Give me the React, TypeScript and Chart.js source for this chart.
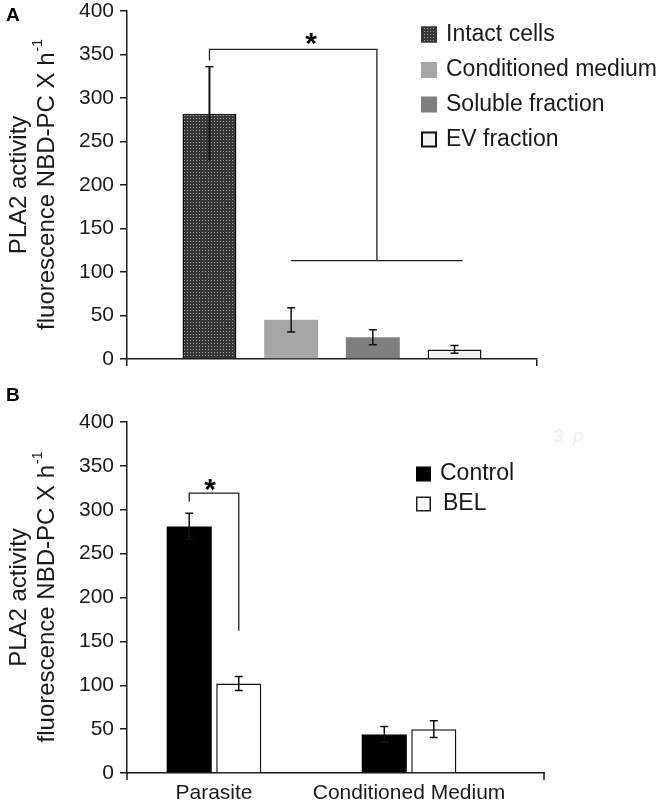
import React, { useEffect, useRef } from "react";
import { Chart, registerables } from "chart.js";

Chart.register(...registerables);

const FONT = "'Liberation Sans', Arial, Helvetica, sans-serif";
Chart.defaults.font.family = FONT;

// ---------- Panel A data ----------
const seriesA = ["Intact cells", "Conditioned medium", "Soluble fraction", "EV fraction"];
const valuesA = [282, 45, 25, 11];
const errorsA = [54, 14, 8.5, 4.5];
const categoryA = [""];
// significance bracket (y values)
const bracketA = { top: 356, leftDrop: 343, base: 113 };

// ---------- Panel B data ----------
const groupsB = ["Parasite", "Conditioned Medium"];
const seriesB = ["Control", "BEL"];
const controlB = [281, 44];
const controlErrB = [15, 9];
const belB = [102, 50];
const belErrB = [8, 9.5];
const bracketB = { top: 319, leftDrop: 309, rightDrop: 162 };

const yTitle1 = "PLA2 activity";
const yTitle2 = "fluorescence NBD-PC X h";
const yTitleSup = "-1";

const INK = "#1a1a1a";

function makePattern(): CanvasPattern | string {
  const c = document.createElement("canvas");
  c.width = 3;
  c.height = 3;
  const g = c.getContext("2d");
  if (!g) return "#444";
  g.fillStyle = "#363636";
  g.fillRect(0, 0, 3, 3);
  g.fillStyle = "#a0a0a0";
  g.fillRect(1, 1, 1, 1);
  const p = g.createPattern(c, "repeat");
  return p || "#444";
}

const errorBarPlugin = {
  id: "errorBars",
  afterDatasetsDraw(chart: any) {
    const ctx = chart.ctx;
    const y = chart.scales.y;
    chart.data.datasets.forEach((ds: any, i: number) => {
      if (!ds.errors) return;
      const meta = chart.getDatasetMeta(i);
      meta.data.forEach((bar: any, j: number) => {
        const raw = ds.data[j];
        const v = typeof raw === "object" ? raw.y : raw;
        const e = ds.errors[j];
        const yt = y.getPixelForValue(v + e);
        const yb = y.getPixelForValue(v - e);
        ctx.save();
        ctx.strokeStyle = "#111";
        ctx.lineWidth = ds.errWidth || 1.5;
        ctx.beginPath();
        ctx.moveTo(bar.x, yt);
        ctx.lineTo(bar.x, yb);
        ctx.stroke();
        ctx.lineWidth = 1.5;
        ctx.beginPath();
        ctx.moveTo(bar.x - 4, yt);
        ctx.lineTo(bar.x + 4, yt);
        if (ds.lowerCap !== false) {
          ctx.moveTo(bar.x - 4, yb);
          ctx.lineTo(bar.x + 4, yb);
        }
        ctx.stroke();
        ctx.restore();
      });
    });
  },
};

function drawYTitle(chart: any) {
  const ctx = chart.ctx;
  const ca = chart.chartArea;
  const cy = (ca.top + ca.bottom) / 2;
  ctx.save();
  ctx.fillStyle = INK;
  ctx.textBaseline = "middle";
  // line 1
  ctx.save();
  ctx.translate(19, cy);
  ctx.rotate(-Math.PI / 2);
  ctx.font = `24px ${FONT}`;
  ctx.textAlign = "center";
  ctx.fillText(yTitle1, 0, 0);
  ctx.restore();
  // line 2 with superscript
  ctx.save();
  ctx.translate(47, cy);
  ctx.rotate(-Math.PI / 2);
  ctx.font = `24px ${FONT}`;
  const w1 = ctx.measureText(yTitle2).width;
  ctx.font = `14px ${FONT}`;
  const w2 = ctx.measureText(yTitleSup).width;
  const start = -(w1 + w2) / 2;
  ctx.textAlign = "left";
  ctx.font = `24px ${FONT}`;
  ctx.fillText(yTitle2, start, 0);
  ctx.font = `14px ${FONT}`;
  ctx.fillText(yTitleSup, start + w1 + 1, -9);
  ctx.restore();
  ctx.restore();
}

function drawPanelLetter(chart: any, letter: string) {
  const ctx = chart.ctx;
  ctx.save();
  ctx.fillStyle = "#000";
  ctx.font = `bold 19px ${FONT}`;
  ctx.textBaseline = "middle";
  ctx.textAlign = "left";
  ctx.fillText(letter, 6, 16);
  ctx.restore();
}

function drawStar(ctx: any, x: number, y: number) {
  ctx.save();
  ctx.fillStyle = "#000";
  ctx.font = `bold 30px ${FONT}`;
  ctx.textAlign = "center";
  ctx.textBaseline = "alphabetic";
  ctx.fillText("*", x, y + 17);
  ctx.restore();
}

function legendSquare(ctx: any, x: number, cy: number, size: number, fill: any, border: string | null, bw: number) {
  ctx.save();
  ctx.fillStyle = fill;
  ctx.fillRect(x, cy - size / 2, size, size);
  if (border) {
    ctx.strokeStyle = border;
    ctx.lineWidth = bw;
    ctx.strokeRect(x + bw / 2, cy - size / 2 + bw / 2, size - bw, size - bw);
  }
  ctx.restore();
}

const panelAPlugin = {
  id: "panelA",
  afterDraw(chart: any) {
    const ctx = chart.ctx;
    const ca = chart.chartArea;
    const y = chart.scales.y;
    drawYTitle(chart);
    drawPanelLetter(chart, "A");
    // bracket
    const m0 = chart.getDatasetMeta(0).data[0];
    const m1 = chart.getDatasetMeta(1).data[0];
    const m3 = chart.getDatasetMeta(3).data[0];
    const xl = m0.x;
    const xs = m1.x;
    const xe = m3.x + m3.width * 0.15;
    const xm = (xs + xe) / 2;
    const yTop = y.getPixelForValue(bracketA.top);
    const yDrop = y.getPixelForValue(bracketA.leftDrop);
    const yBase = y.getPixelForValue(bracketA.base);
    ctx.save();
    ctx.strokeStyle = "#222";
    ctx.lineWidth = 1.3;
    ctx.beginPath();
    ctx.moveTo(xl, yDrop);
    ctx.lineTo(xl, yTop);
    ctx.lineTo(xm, yTop);
    ctx.lineTo(xm, yBase);
    ctx.moveTo(xs, yBase);
    ctx.lineTo(xe, yBase);
    ctx.stroke();
    ctx.restore();
    drawStar(ctx, (xl + xm) / 2 + 18, yTop - 13);
    // legend
    const lx = ca.right - 116;
    const rows = [34.5, 70, 104.5, 139.5];
    chart.data.datasets.forEach((ds: any, i: number) => {
      const cy = rows[i];
      legendSquare(ctx, lx, cy, 16, ds.backgroundColor, ds.legendBorder || null, ds.legendBorderWidth || 1);
      ctx.save();
      ctx.fillStyle = INK;
      ctx.font = `23px ${FONT}`;
      ctx.textBaseline = "middle";
      ctx.textAlign = "left";
      ctx.fillText(ds.label, lx + 25, cy);
      ctx.restore();
    });
  },
};

const panelBPlugin = {
  id: "panelB",
  afterDraw(chart: any) {
    const ctx = chart.ctx;
    const ca = chart.chartArea;
    const y = chart.scales.y;
    drawYTitle(chart);
    drawPanelLetter(chart, "B");
    // x axis end ticks
    ctx.save();
    ctx.strokeStyle = INK;
    ctx.lineWidth = 1.5;
    ctx.beginPath();
    ctx.moveTo(ca.left, ca.bottom);
    ctx.lineTo(ca.left, ca.bottom + 7);
    ctx.moveTo(ca.right, ca.bottom);
    ctx.lineTo(ca.right, ca.bottom + 7);
    ctx.stroke();
    ctx.restore();
    // bracket
    const c = chart.getDatasetMeta(0).data[0];
    const b = chart.getDatasetMeta(1).data[0];
    const yTop = y.getPixelForValue(bracketB.top);
    const yL = y.getPixelForValue(bracketB.leftDrop);
    const yR = y.getPixelForValue(bracketB.rightDrop);
    ctx.save();
    ctx.strokeStyle = "#222";
    ctx.lineWidth = 1.3;
    ctx.beginPath();
    ctx.moveTo(c.x, yL);
    ctx.lineTo(c.x, yTop);
    ctx.lineTo(b.x, yTop);
    ctx.lineTo(b.x, yR);
    ctx.stroke();
    ctx.restore();
    drawStar(ctx, (c.x + b.x) / 2 - 4, yTop - 11);
    // legend
    const lx = ca.right - 128;
    const rows = [94, 124];
    chart.data.datasets.forEach((ds: any, i: number) => {
      const cy = rows[i];
      legendSquare(ctx, lx, cy, 15, ds.backgroundColor, ds.legendBorder || null, 1.5);
      ctx.save();
      ctx.fillStyle = INK;
      ctx.font = `23px ${FONT}`;
      ctx.textBaseline = "middle";
      ctx.textAlign = "left";
      ctx.fillText(ds.label, lx + 24 + (i === 1 ? 3 : 0), cy);
      ctx.restore();
    });
    // faint scan artefact
    ctx.save();
    ctx.fillStyle = "#f0f0f0";
    ctx.font = `italic 18px ${FONT}`;
    ctx.textBaseline = "middle";
    ctx.fillText("3  p", ca.right + 9, 57);
    ctx.restore();
  },
};

function yScale() {
  return {
    min: 0,
    max: 400,
    ticks: { stepSize: 50, font: { size: 21 }, color: INK, padding: 6 },
    grid: { display: true, drawOnChartArea: false, drawTicks: true, tickLength: 7, color: INK, lineWidth: 1.5 },
    border: { display: true, color: INK, width: 1.5 },
    afterFit: (s: any) => {
      s.width = 127;
      s.paddingTop = 0;
      s.paddingBottom = 0;
    },
  };
}

function ChartA() {
  const ref = useRef<HTMLCanvasElement>(null);
  useEffect(() => {
    if (!ref.current) return;
    const pattern = makePattern();
    const fills = [pattern, "#a6a6a6", "#7f7f7f", "#f2f2f2"];
    const borders = ["#111", "transparent", "transparent", "#111"];
    const bws = [1.5, 0, 0, 1.5];
    const chart = new Chart(ref.current, {
      type: "bar",
      data: {
        labels: categoryA,
        datasets: seriesA.map((name, i) => ({
          label: name,
          data: [valuesA[i]],
          errors: [errorsA[i]],
          errWidth: i === 0 ? 2 : 1.5,
          lowerCap: i !== 0,
          backgroundColor: fills[i],
          borderColor: borders[i],
          borderWidth: bws[i],
          legendBorder: i === 0 ? "#333" : i === 3 ? "#111" : null,
          legendBorderWidth: i === 3 ? 2 : 1,
          categoryPercentage: 0.797,
          barPercentage: 0.66,
        })) as any,
      },
      options: {
        responsive: false,
        animation: false,
        layout: { padding: { top: 11, right: 124, bottom: 0, left: 0 } },
        plugins: { legend: { display: false }, tooltip: { enabled: false } },
        scales: {
          x: {
            offset: true,
            ticks: { display: false },
            grid: { display: true, offset: true, drawOnChartArea: false, drawTicks: true, tickLength: 7, color: INK, lineWidth: 1.5 },
            border: { display: true, color: INK, width: 1.5 },
            afterFit: (s: any) => {
              s.height = 21;
              s.paddingLeft = 0;
              s.paddingRight = 0;
            },
          },
          y: yScale() as any,
        },
      },
      plugins: [errorBarPlugin, panelAPlugin],
    });
    return () => chart.destroy();
  }, []);
  return <canvas ref={ref} width={661} height={380} style={{ display: "block", width: 661, height: 380 }} />;
}

function ChartB() {
  const ref = useRef<HTMLCanvasElement>(null);
  useEffect(() => {
    if (!ref.current) return;
    const chart = new Chart(ref.current, {
      type: "bar",
      data: {
        datasets: [
          {
            label: seriesB[0],
            data: controlB.map((v, i) => ({ x: i, y: v })),
            errors: controlErrB,
            backgroundColor: "#000",
            borderColor: "#000",
            borderWidth: 0,
            categoryPercentage: 0.508,
            barPercentage: 0.91,
          },
          {
            label: seriesB[1],
            data: belB.map((v, i) => ({ x: i, y: v })),
            errors: belErrB,
            backgroundColor: "#fff",
            borderColor: "#111",
            borderWidth: 1.5,
            legendBorder: "#222",
            categoryPercentage: 0.508,
            barPercentage: 0.91,
          },
        ] as any,
      },
      options: {
        responsive: false,
        animation: false,
        layout: { padding: { top: 42, right: 117, bottom: 0, left: 0 } },
        plugins: { legend: { display: false }, tooltip: { enabled: false } },
        scales: {
          x: {
            type: "linear",
            min: -0.446,
            max: 1.692,
            offset: false,
            afterBuildTicks: (s: any) => {
              s.ticks = groupsB.map((_, i) => ({ value: i }));
            },
            ticks: {
              callback: (v: any) => groupsB[v] ?? "",
              font: { size: 21 },
              color: INK,
              padding: 8,
              maxRotation: 0,
              autoSkip: false,
            },
            grid: { display: false, drawTicks: false },
            border: { display: true, color: INK, width: 1.5 },
            afterFit: (s: any) => {
              s.height = 30;
              s.paddingLeft = 0;
              s.paddingRight = 0;
            },
          } as any,
          y: yScale() as any,
        },
      },
      plugins: [errorBarPlugin, panelBPlugin],
    });
    return () => chart.destroy();
  }, []);
  return <canvas ref={ref} width={661} height={423} style={{ display: "block", width: 661, height: 423 }} />;
}

export default function App() {
  return (
    <div style={{ position: "absolute", left: 0, top: 0, width: 661, height: 803, background: "#fff" }}>
      <ChartA />
      <ChartB />
    </div>
  );
}
